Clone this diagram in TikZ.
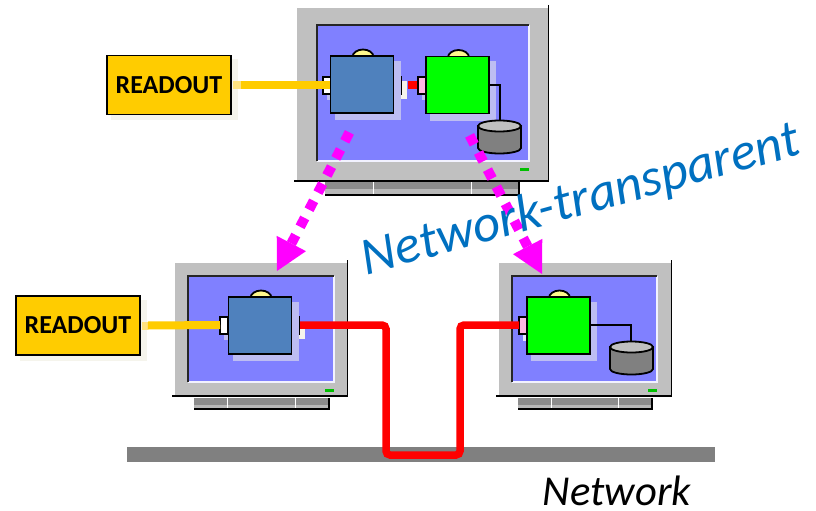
\documentclass[tikz,border=0pt]{standalone}
\usepackage{fontspec}
\setmainfont{Carlito}
\usetikzlibrary{arrows.meta,calc}
\definecolor{bez}{HTML}{C0C0C0}
\definecolor{scr}{HTML}{8080FF}
\definecolor{shad}{HTML}{BDBDF2}
\definecolor{blu}{HTML}{4F81BD}
\definecolor{rdt}{HTML}{FFCC00}
\definecolor{rdtl}{HTML}{FFE380}
\definecolor{cream}{HTML}{F5F4EC}
\definecolor{netblue}{HTML}{0070C0}
\definecolor{mag}{HTML}{FF00FF}
\tikzset{
  outl/.style={draw=black,line width=1.8pt},
  readoutbox/.style={outl,fill=rdt,minimum width=124pt,minimum height=59pt,inner sep=0pt,font=\bfseries\fontsize{26}{28}\selectfont},
  yellowlink/.style={draw=rdt,line width=8pt},
  yellowstub/.style={draw=rdtl,line width=8pt},
  redlink/.style={draw=red,line width=7.5pt,rounded corners=4pt},
  magdash/.style={draw=mag,line width=10pt,dash pattern=on 10pt off 9.3pt},
  maghead/.style={draw=none,fill=mag},
  wire/.style={draw=black,line width=1.6pt},
}
\newcommand\monitorbody[8]{%
  \fill[bez] (#1,#2) rectangle (#3,#4);
  \draw[black,line width=1.5pt] (#3-.5,#2-3) -- (#3-.5,#4) -- (#1-3,#4);
  \fill[scr] (#5,#6) rectangle (#7,#8);
  \draw[white!90!scr,line width=1.5pt] (#5,#8) -- (#7,#8) -- (#7,#6);
  \draw[black!85,line width=1.6pt] (#5,#8) -- (#5,#6) -- (#7,#6);
  \fill[green!75!black] (#7-9,#8+7) rectangle (#7,#8+10);
}
\newcommand\monitorbase[6]{%
  \fill[black!45] (#1,#2) rectangle (#3,#4);
  \fill[black!28] (#1,#2+7) rectangle (#3,#4);
  \draw[white,line width=1pt] (#5,#2) -- (#5,#4-1) (#6,#2) -- (#6,#4-1);
  \draw[black,line width=1.3pt] (#1,#4) -- (#3,#4) -- (#3,#2);
}
\newcommand\procbox[3]{%
  \fill[shad] (#1+4,#2+5) rectangle (#1+70,#2+64);
  \draw[outl,fill=yellow!45] (#1+22,#2+1) arc[start angle=180,end angle=0,x radius=10.5pt,y radius=7.5pt] -- cycle;
  \draw[outl,fill=#3] (#1,#2) rectangle (#1+63,#2+57);
}
\newcommand\cyl[2]{%
  \draw[outl,fill=black!50] (#1,#2+6) -- (#1,#2+28) arc[start angle=180,end angle=360,x radius=21.5pt,y radius=5.5pt] -- (#1+43,#2+6) -- cycle;
  \draw[outl,fill=bez] (#1+21.5,#2+6) ellipse[x radius=21.5pt,y radius=5.5pt];
}
\newcommand\port[3]{%
  \draw[line width=1.3pt,draw=black,fill=#3] (#1,#2) rectangle (#1+8,#2+17);
}
\newcommand\maghead[2]{% from-coordinate, tip-coordinate
  \path let \p1=($(#2)!31pt!(#1)$), \p2=($(\p1)!16.5pt!90:(#2)$), \p3=($(\p1)!16.5pt!-90:(#2)$) in
    [maghead] (\x2,\y2) -- (\x3,\y3) -- (#2) -- cycle;
}
\begin{document}
\begin{tikzpicture}[x=1pt,y=-1pt]
\useasboundingbox (0,0) rectangle (816,511);
\fill[white] (0,0) rectangle (816,511);

\fill[black!50] (127,447) rectangle (715,462);

\monitorbase{325}{182}{519}{195}{373}{471}
\monitorbody{297}{8}{549}{181}{317}{25}{529}{161}
\monitorbase{194}{398}{329}{409}{227}{295}
\monitorbody{175}{263}{348}{396}{188}{276}{334}{382}
\monitorbase{518}{398}{652}{409}{551}{618}
\monitorbody{499}{263}{672}{396}{512}{276}{657}{382}

% top monitor
\fill[cream] (401,81) rectangle (407,99);
\fill[shad] (327,92) rectangle (334,100);
\port{323}{77}{white}
\port{393}{77}{pink!80!white}
\procbox{330.5}{56}{blu}
\fill[shad] (422,94) rectangle (427,100);
\port{418}{77}{pink!70!magenta!60!white}
\procbox{426}{56.5}{green}
\cyl{478}{120}
\draw[wire] (489,85) -- (500,85) -- (500,120);

% bottom left
\fill[cream] (299,325) rectangle (305,339);
\fill[shad] (224,334) rectangle (231,340);
\port{220}{317}{white}
\port{291.5}{317}{pink!80!white}
\procbox{228.5}{297}{blu}

% bottom right
\fill[white!80!scr] (523,334) rectangle (528,341);
\port{519}{317}{pink!70!magenta!60!white}
\procbox{527}{297}{green}
\cyl{610}{341}
\draw[wire] (590,325) -- (631,325) -- (631,341);

% readout boxes
\fill[cream] (111,59) rectangle (238,120);
\fill[cream] (20,300) rectangle (147,361);
\node[readoutbox] (ro1) at (169,85) {READOUT};
\node[readoutbox] (ro2) at (78,325.5) {READOUT};
\coordinate (p1) at (330,85);
\coordinate (p2) at (220,325);
\draw[yellowstub] (ro1.east) ++(1,0) -- ++(8,0);
\draw[yellowstub] (ro2.east) ++(1,0) -- ++(6,0);
\draw[yellowlink] (ro1.east) ++(9,0) -- (p1);
\draw[yellowlink] (ro2.east) ++(7,0) -- (p2);

% red links
\coordinate (r1a) at (408,85);
\coordinate (r1b) at (417,85);
\draw[draw=red,line width=8pt] (r1a) -- (r1b);
\coordinate (r2a) at (300,325);
\coordinate (r2b) at (519,325);
\draw[redlink] (r2a) -- (386,325) -- (386,455) -- (460,455) -- (460,325) -- (r2b);

% magenta arrows
\coordinate (m1a) at (349.4,132.4);
\coordinate (m1b) at (277,271);
\coordinate (m2a) at (469.6,135.4);
\coordinate (m2b) at (542,274);
\draw[magdash,shorten >=31pt] (m1a) -- (m1b);
\draw[magdash,shorten >=31pt] (m2a) -- (m2b);
\maghead{m1a}{m1b}
\maghead{m2a}{m2b}

% labels
\node[text=netblue,font=\itshape\fontsize{53}{55}\selectfont,rotate=15.5,inner sep=0pt] (nt) at (581,201) {Network-transparent};
\node[font=\itshape\fontsize{42.6}{44}\selectfont,inner sep=0pt] (net) at (617,491) {Network};
\end{tikzpicture}
\end{document}
